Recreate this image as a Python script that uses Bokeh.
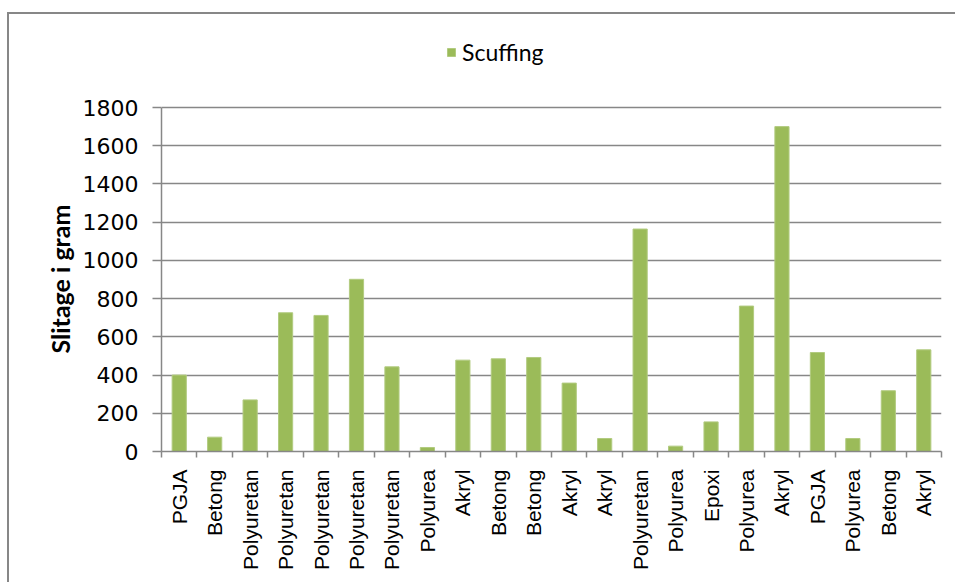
import math
from bokeh.plotting import figure
from bokeh.models import ColumnDataSource, FixedTicker, Legend, LegendItem, Range1d, Title
from bokeh.embed import file_html
from bokeh.resources import INLINE

materials = ["PGJA", "Betong", "Polyuretan", "Polyuretan", "Polyuretan", "Polyuretan",
             "Polyuretan", "Polyurea", "Akryl", "Betong", "Betong", "Akryl", "Akryl",
             "Polyuretan", "Polyurea", "Epoxi", "Polyurea", "Akryl", "PGJA", "Polyurea",
             "Betong", "Akryl"]
scuffing = [400, 75, 270, 726, 712, 901, 443, 21, 478, 485, 492, 358, 68,
            1164, 28, 155, 761, 1700, 518, 68, 318, 532]
y_ticks = [0, 200, 400, 600, 800, 1000, 1200, 1400, 1600, 1800]
series_name = "Scuffing"
y_title = "Slitage i gram"

n = len(materials)
xs = list(range(1, n + 1))
source = ColumnDataSource(dict(x=xs, top=scuffing, label=materials))

# outer chart-area border offsets
OX, OY = 7, 12
FRAME_TOP, FRAME_BOTTOM, FRAME_LEFT, FRAME_RIGHT = 30, 451, 161, 941
Y_MAX = 1800
# extend the data range above 1800 so the legend can sit inside the frame
y_end = Y_MAX * (FRAME_BOTTOM - FRAME_TOP) / (451 - 107)

p = figure(width=957 - OX - 2, height=584 - OY - 2, output_backend="svg", toolbar_location=None,
           x_range=Range1d(0.5, n + 0.5), y_range=Range1d(0, y_end),
           min_border_left=FRAME_LEFT - OX - 2, min_border_right=957 - FRAME_RIGHT,
           min_border_top=FRAME_TOP - OY - 2, min_border_bottom=584 - FRAME_BOTTOM)
p.margin = (OY, 0, 0, OX)
p.styles = {"border-top": "2px solid #878787", "border-left": "2px solid #878787"}
p.outline_line_color = None
p.background_fill_color = "white"
p.border_fill_color = "white"

r = p.vbar(x="x", top="top", width=0.4, source=source,
           fill_color="#9BBB59", line_color="#B2CB80", line_width=1)

# x axis
xa = p.xaxis[0]
xa.ticker = FixedTicker(ticks=xs, minor_ticks=[i + 0.5 for i in range(0, n + 1)])
xa.major_label_overrides = {i: m for i, m in zip(xs, materials)}
xa.major_label_orientation = math.pi / 2
xa.major_tick_line_color = None
xa.minor_tick_in = 0
xa.minor_tick_out = 6
xa.minor_tick_line_color = "#878787"
xa.minor_tick_line_width = 1.5
xa.axis_line_color = "#878787"
xa.axis_line_width = 1.5
xa.major_label_standoff = 12
xa.major_label_text_font = "Liberation Sans"
xa.major_label_text_font_size = "21px"
xa.major_label_text_color = "#000000"

# y axis
ya = p.yaxis[0]
ya.ticker = FixedTicker(ticks=y_ticks)
ya.bounds = (0, Y_MAX)
ya.minor_tick_line_color = None
ya.major_tick_in = 0
ya.major_tick_out = 9
ya.major_tick_line_color = "#878787"
ya.major_tick_line_width = 1.5
ya.axis_line_color = "#878787"
ya.axis_line_width = 1.5
ya.major_label_standoff = 14
ya.major_label_text_font = "DejaVu Sans"
ya.major_label_text_font_size = "22px"
ya.major_label_text_color = "#000000"

# y-axis title, placed along the 0..1800 part of the axis
yt = Title(text=y_title, align="left", offset=98, standoff=10,
           text_font="Lato", text_font_style="bold", text_font_size="25px",
           text_color="#000000")
p.add_layout(yt, "left")

p.xgrid.grid_line_color = None
p.ygrid.grid_line_color = "#878787"
p.ygrid.grid_line_width = 1.5

legend = Legend(items=[LegendItem(label=series_name, renderers=[r])],
                location=(285, 385), orientation="horizontal",
                label_text_font="Lato", label_text_font_size="23px",
                label_text_color="#000000",
                glyph_width=10, glyph_height=10, padding=0, margin=0,
                label_standoff=6, border_line_color=None, background_fill_alpha=0)
p.add_layout(legend, "center")

open("out.html", "w").write(file_html(p, INLINE))
